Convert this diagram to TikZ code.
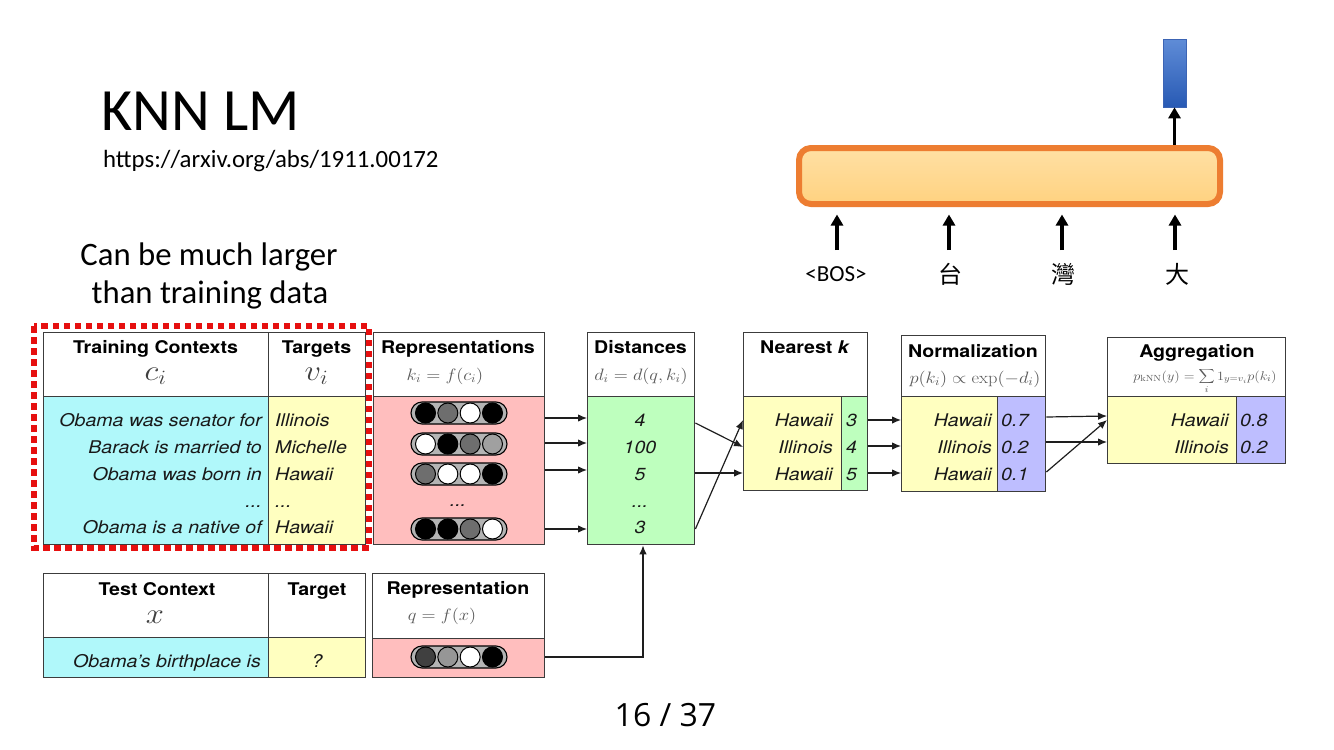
\RequirePackage{fix-cm}
\documentclass[tikz,border=0pt]{standalone}
\usepackage{fontspec}
\usepackage{graphicx}
\usetikzlibrary{arrows.meta,calc}
\newfontfamily\hv[FakeStretch=1.12]{TeX Gyre Heros}
\newfontfamily\calib{Carlito}
\newfontfamily\cjk{Noto Sans CJK TC}
\newfontfamily\osans{Open Sans}
\newcommand\myfs[1]{\fontsize{#1}{#1}\selectfont}
\newcommand\sxm[1]{\scalebox{1.12}[1]{#1}}
\definecolor{cyanc}{RGB}{176,248,250}
\definecolor{yel}{RGB}{255,255,192}
\definecolor{pinkc}{RGB}{255,190,190}
\definecolor{grn}{RGB}{190,255,190}
\definecolor{blu}{RGB}{190,190,255}
\definecolor{bord}{RGB}{60,60,60}
\definecolor{orng}{RGB}{237,125,49}
\definecolor{dotred}{RGB}{230,16,16}
\definecolor{fmlgray}{RGB}{90,90,90}
\definecolor{txt}{RGB}{25,25,25}
\definecolor{arrc}{RGB}{30,30,30}
\definecolor{pillg}{RGB}{180,180,180}
\definecolor{cgray}{RGB}{110,110,110}
\definecolor{clgray}{RGB}{160,160,160}
\definecolor{cdgray}{RGB}{64,64,64}
\definecolor{cmgray}{RGB}{150,150,150}
\tikzset{
  cellbox/.style={draw=bord, line width=1.4pt, inner sep=0pt, anchor=north west},
  hdr/.style={font=\hv\bfseries\myfs{17.5}, anchor=base, inner sep=0pt, text=black},
  fml/.style={font=\myfs{16.5}, anchor=base, inner sep=0pt, text=fmlgray},
  bigm/.style={font=\myfs{29}, anchor=base, inner sep=0pt, text=black!75},
  cellR/.style={font=\hv\itshape\myfs{17.5}, anchor=base east, inner sep=0pt, text=txt},
  cellL/.style={font=\hv\itshape\myfs{17.5}, anchor=base west, inner sep=0pt, text=txt},
  cellC/.style={font=\hv\itshape\myfs{17.5}, anchor=base, inner sep=0pt, text=txt},
  arr/.style={draw=arrc, line width=1.2pt, -{Latex[length=9pt,width=7.5pt]}},
  bigarr/.style={draw=black, line width=3.8pt, -{Triangle[length=11pt,width=12pt]}},
  slide/.style={inner sep=0pt, text=black},
}
\newcommand\cellat[6]{\node[cellbox, fill=#5, minimum width=#3, minimum height=#4] (#6) at (#1,#2) {};}
\newcommand\pillat[5]{%
  \draw[line width=1.1pt, fill=pillg, rounded corners=11pt] ($(#1)+(-48,-11)$) rectangle ($(#1)+(48,11)$);
  \foreach \cc [count=\ii from 0] in {#2,#3,#4,#5}
    \draw[line width=1pt, fill=\cc] ($(#1)+(-33.5+22.33*\ii,0)$) circle[radius=10pt];
}
\begin{document}
\begin{tikzpicture}[x=1pt,y=-1pt]
\fill[white] (0,0) rectangle (1334,750);
\useasboundingbox (0,0) rectangle (1334,750);

% ---------- slide texts ----------
\node[slide, font=\calib\myfs{60}, anchor=base west] (title) at (101,130) {KNN LM};
\node[slide, font=\calib\myfs{24.8}, anchor=base west] (url) at (103,167) {https://arxiv.org/abs/1911.00172};
\node[slide, font=\calib\myfs{32.7}, anchor=base] (note1) at (209,265) {Can be much larger};
\node[slide, font=\calib\myfs{32.7}, anchor=base] (note2) at (210,303) {than training data};
\node[slide, font=\osans\myfs{32}, anchor=base] (page) at (665.5,726) {16 / 37};

% ---------- top-right language model ----------
\node[draw=orng, line width=6pt, rounded corners=12pt, top color={rgb,255:red,255;green,224;blue,164}, bottom color={rgb,255:red,255;green,210;blue,128}, minimum width=421, minimum height=56, inner sep=0pt] (lm) at (1009.5,176) {};
\node[draw={rgb,255:red,60;green,100;blue,180}, line width=0.6pt, top color={rgb,255:red,95;green,140;blue,215}, bottom color={rgb,255:red,40;green,90;blue,180}, minimum width=23, minimum height=68, inner sep=0pt] (out) at (1174.5,73) {};
\node[slide, font=\calib\myfs{23}, anchor=base] (lab1) at (836,281) {<BOS>};
\node[slide, font=\cjk\myfs{24}, anchor=base] (lab2) at (950,283) {台};
\node[slide, font=\cjk\myfs{24}, anchor=base] (lab3) at (1063,283) {灣};
\node[slide, font=\cjk\myfs{24}, anchor=base] (lab4) at (1177,283) {大};
\coordinate (a1) at (837,250);
\coordinate (a2) at (949,250);
\coordinate (a3) at (1062,250);
\coordinate (a4) at (1175,250);
\foreach \a in {a1,a2,a3,a4}
  \draw[bigarr, shorten >=7.5pt] (\a) -- (\a |- lm.south);
\draw[bigarr] (out.south |- lm.north) -- (out.south);

% ---------- red dotted frame ----------
\draw[dotred, line width=6.5pt, dash pattern=on 6.5pt off 4.5pt] (34,326) rectangle (369,548);

% ---------- boxes ----------
\cellat{43}{332}{225}{64}{white}{tcH}
\cellat{268}{332}{97}{64}{white}{tgH}
\cellat{43}{396}{225}{148}{cyanc}{tcB}
\cellat{268}{396}{97}{148}{yel}{tgB}
\cellat{373}{332}{171}{64}{white}{repH}
\cellat{373}{396}{171}{148}{pinkc}{repB}
\cellat{587}{332}{107}{64}{white}{distH}
\cellat{587}{396}{107}{148}{grn}{distB}
\cellat{743}{332}{124}{64}{white}{nearH}
\cellat{743}{396}{98}{94}{yel}{nearL}
\cellat{841}{396}{26}{94}{grn}{nearR}
\cellat{901}{335}{144}{61}{white}{normH}
\cellat{901}{396}{96}{95}{yel}{normL}
\cellat{997}{396}{48}{95}{blu}{normR}
\cellat{1107}{337}{178}{59}{white}{aggH}
\cellat{1107}{396}{129}{67}{yel}{aggL}
\cellat{1236}{396}{49}{67}{blu}{aggR}
\cellat{43}{573}{225}{64}{white}{xH}
\cellat{268}{573}{97}{64}{white}{xtH}
\cellat{43}{637}{225}{40}{cyanc}{xB}
\cellat{268}{637}{97}{40}{yel}{xtB}
\cellat{372}{573}{172}{65}{white}{trepH}
\cellat{372}{638}{172}{39}{pinkc}{trepB}

% ---------- headers ----------
\node[hdr] (hTC) at (155.5,353) {Training Contexts};
\node[bigm] (hci) at (155.5,380) {\sxm{$c_i$}};
\node[hdr] (hTg) at (316.5,353) {Targets};
\node[bigm] (hvi) at (316.5,380) {\sxm{$v_i$}};
\node[hdr] (hRep) at (458,353) {Representations};
\node[fml] (hki) at (445,380) {\sxm{$k_i=f(c_i)$}};
\node[hdr] (hDist) at (640.5,353) {Distances};
\node[fml] (hdi) at (641,380) {\sxm{$d_i=d(q,k_i)$}};
\node[hdr] (hNear) at (805,353) {Nearest \textit{k}};
\node[hdr] (hNorm) at (973,357) {Normalization};
\node[fml] (hpk) at (975,383) {\sxm{$p(k_i)\propto\exp(-d_i)$}};
\node[hdr] (hAgg) at (1197,357) {Aggregation};
\node[fml, font=\myfs{12.7}] (hpknn) at (1205,380) {\sxm{$p_{\mathrm{kNN}}(y)=\displaystyle\sum_i 1_{y=v_i}p(k_i)$}};
\node[hdr] (hX) at (157,595) {Test Context};
\node[bigm] (hx) at (155,623) {\sxm{$x$}};
\node[hdr] (hXt) at (317,595) {Target};
\node[hdr] (hTrep) at (458,594) {Representation};
\node[fml] (hq) at (442,620) {\sxm{$q=f(x)$}};

% ---------- training rows ----------
\node[cellR] (c1) at (262,426) {Obama was senator for};
\node[cellR] (c2) at (262,453) {Barack is married to};
\node[cellR] (c3) at (262,480) {Obama was born in};
\node[cellR] (c4) at (262,507) {...};
\node[cellR] (c5) at (262,533) {Obama is a native of};
\node[cellL] (v1) at (275,426) {Illinois};
\node[cellL] (v2) at (275,453) {Michelle};
\node[cellL] (v3) at (275,480) {Hawaii};
\node[cellL] (v4) at (275,507) {...};
\node[cellL] (v5) at (275,533) {Hawaii};

% ---------- representation pills ----------
\coordinate (p1) at (459,413);
\coordinate (p2) at (459,444);
\coordinate (p3) at (459,474);
\coordinate (p4) at (459,529);
\coordinate (pq) at (459,657);
\pillat{p1}{black}{cgray}{white}{black}
\pillat{p2}{white}{black}{cgray}{clgray}
\pillat{p3}{cgray}{white}{white}{black}
\pillat{p4}{black}{black}{cgray}{white}
\pillat{pq}{cdgray}{cmgray}{white}{black}
\node[cellC] (pdots) at (458,506) {...};

% ---------- distances ----------
\node[cellC] (d1) at (640,426) {4};
\node[cellC] (d2) at (640,453) {100};
\node[cellC] (d3) at (640,480) {5};
\node[cellC] (d4) at (640,507) {...};
\node[cellC] (d5) at (640,533) {3};

% ---------- nearest ----------
\node[cellR] (n1) at (833,426) {Hawaii};
\node[cellR] (n2) at (833,453) {Illinois};
\node[cellR] (n3) at (833,480) {Hawaii};
\node[cellL] (nd1) at (846,426) {3};
\node[cellL] (nd2) at (846,453) {4};
\node[cellL] (nd3) at (846,480) {5};

% ---------- normalization ----------
\node[cellR] (m1) at (992,426) {Hawaii};
\node[cellR] (m2) at (992,453) {Illinois};
\node[cellR] (m3) at (992,480) {Hawaii};
\node[cellL] (mp1) at (1001,426) {0.7};
\node[cellL] (mp2) at (1001,453) {0.2};
\node[cellL] (mp3) at (1001,480) {0.1};

% ---------- aggregation ----------
\node[cellR] (g1) at (1229,426) {Hawaii};
\node[cellR] (g2) at (1229,453) {Illinois};
\node[cellL] (gp1) at (1240,426) {0.8};
\node[cellL] (gp2) at (1240,453) {0.2};

% ---------- test rows ----------
\node[cellR] (xq) at (261,667) {Obama’s birthplace is};
\node[cellC] (xt) at (317,667) {?};

% ---------- connectors ----------
\draw[arr] (repB.east |- 0,418) -- (distB.west |- 0,418);
\draw[arr] (repB.east |- 0,443) -- (distB.west |- 0,443);
\draw[arr] (repB.east |- 0,470) -- (distB.west |- 0,470);
\draw[arr] (repB.east |- 0,529) -- (distB.west |- 0,529);
\draw[arr] (distB.east |- 0,423) -- (nearL.west |- 0,447);
\draw[arr] (distB.east |- 0,473) -- (nearL.west |- 0,473);
\draw[arr] (distB.east |- 0,529) -- (nearL.west |- 0,420);
\draw[arr] (nearR.east |- 0,420) -- (normL.west |- 0,420);
\draw[arr] (nearR.east |- 0,446) -- (normL.west |- 0,446);
\draw[arr] (nearR.east |- 0,473) -- (normL.west |- 0,473);
\draw[arr] (normR.east |- 0,417) -- (aggL.west |- 0,416);
\draw[arr] (normR.east |- 0,442) -- (aggL.west |- 0,442);
\draw[arr] (normR.east |- 0,472) -- (aggL.west |- 0,420);
\draw[arr] (trepB.east |- 0,657) -| (643,0 |- distB.south);
\end{tikzpicture}
\end{document}
